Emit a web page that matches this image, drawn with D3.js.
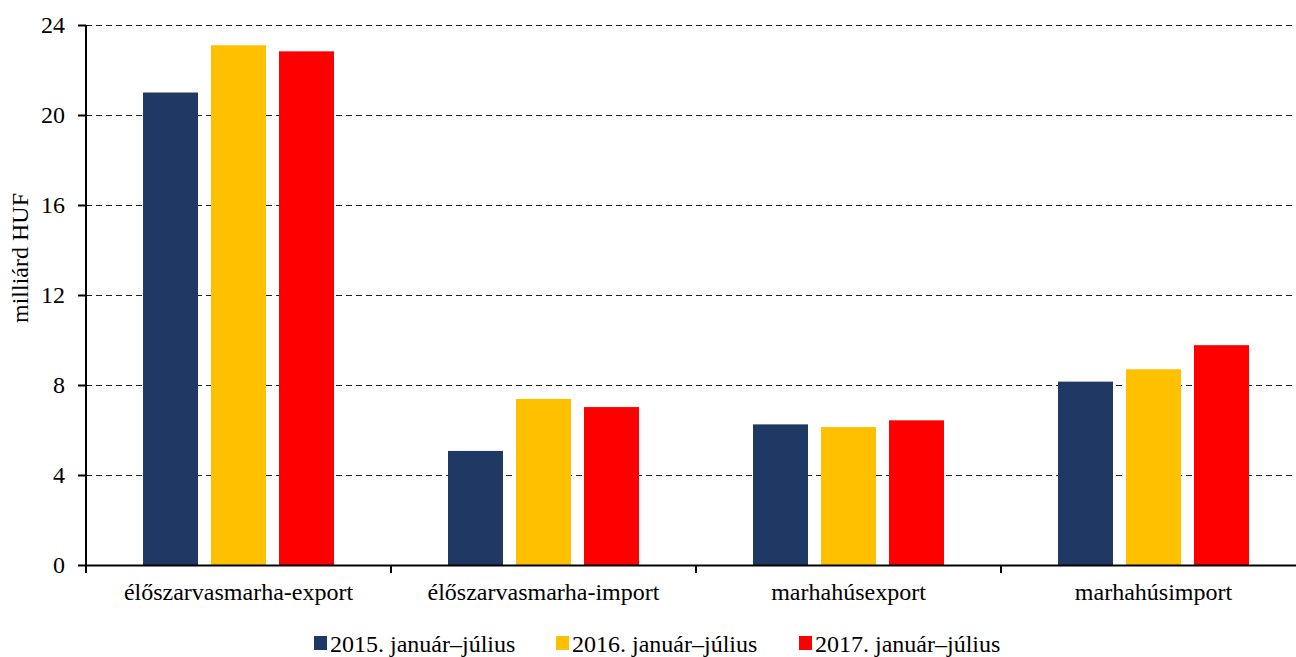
<!DOCTYPE html>
<html><head><meta charset="utf-8">
<script src="https://cdn.jsdelivr.net/npm/d3@7"></script>
<style>body{margin:0;background:#fff;} svg{display:block;} text{font-family:"Liberation Serif","Times New Roman",serif;}</style>
</head><body>
<svg id="c" width="1296" height="657"></svg>
<script>
const categories = ["élőszarvasmarha-export","élőszarvasmarha-import","marhahúsexport","marhahúsimport"];
const seriesNames = ["2015. január–július","2016. január–július","2017. január–július"];
const s2015 = [21.0, 5.07, 6.25, 8.15];
const s2016 = [23.1, 7.38, 6.13, 8.7];
const s2017 = [22.83, 7.02, 6.43, 9.77];
const yTicks = [0,4,8,12,16,20,24];
const colors = ["#203864","#FFC000","#FF0000"];
const series = [s2015,s2016,s2017];

const FS = 24;
const svg = d3.select("#c");
const mLeft = 86, mRight = 1306, mTop = 25, mBottom = 565;
const x = d3.scaleBand().domain(categories).range([mLeft,mRight]);
const xs = d3.scaleBand().domain(d3.range(3)).range([57, 305-57]).paddingInner(13/68);
const y = d3.scaleLinear().domain([0,24]).range([mBottom,mTop]);

// gridlines
svg.append("g").selectAll("line").data(yTicks.filter(t=>t>0)).join("line")
  .attr("x1",mLeft).attr("x2",1296).attr("y1",d=>y(d)+0.5).attr("y2",d=>y(d)+0.5)
  .attr("stroke","#222").attr("stroke-width",1).attr("stroke-dasharray","6,4");

// bars
categories.forEach((c,i)=>{
  series.forEach((s,j)=>{
    svg.append("rect").attr("x",x(c)+xs(j)).attr("width",xs.bandwidth())
      .attr("y",y(s[i])).attr("height",y(0)-y(s[i])).attr("fill",colors[j]);
  });
});

// y axis
const ya = svg.append("g").attr("transform",`translate(${mLeft},0)`)
  .call(d3.axisLeft(y).tickValues(yTicks).tickSize(8).tickPadding(13));
ya.attr("font-family","Liberation Serif").attr("font-size",FS);
ya.select(".domain").attr("stroke","#000").attr("stroke-width",2).attr("d",`M0,${mTop}V${mBottom+8}`);
ya.selectAll(".tick line").attr("stroke","#000").attr("stroke-width",2);
ya.selectAll(".tick text").attr("fill","#000");

// x axis
const xa = svg.append("g").attr("transform",`translate(0,${mBottom})`)
  .call(d3.axisBottom(x).tickSize(0).tickPadding(18));
xa.attr("font-family","Liberation Serif").attr("font-size",FS);
xa.select(".domain").attr("stroke","#000").attr("stroke-width",2);
xa.selectAll(".tick text").attr("fill","#000");
svg.append("g").selectAll("line").data(categories.slice(1)).join("line")
  .attr("x1",d=>x(d)).attr("x2",d=>x(d)).attr("y1",mBottom).attr("y2",mBottom+8)
  .attr("stroke","#000").attr("stroke-width",2);

// y label
svg.append("text").attr("transform","translate(28,258) rotate(-90)")
  .attr("text-anchor","middle").attr("font-size",FS).text("milliárd HUF");

// legend
const lx = [314,556,799];
seriesNames.forEach((n,j)=>{
  const g = svg.append("g").attr("transform",`translate(${lx[j]},0)`);
  g.append("rect").attr("x",0).attr("y",636).attr("width",13).attr("height",14).attr("fill",colors[j]);
  g.append("text").attr("x",16).attr("y",652).attr("font-size",FS).text(n);
});
</script>
</body></html>
